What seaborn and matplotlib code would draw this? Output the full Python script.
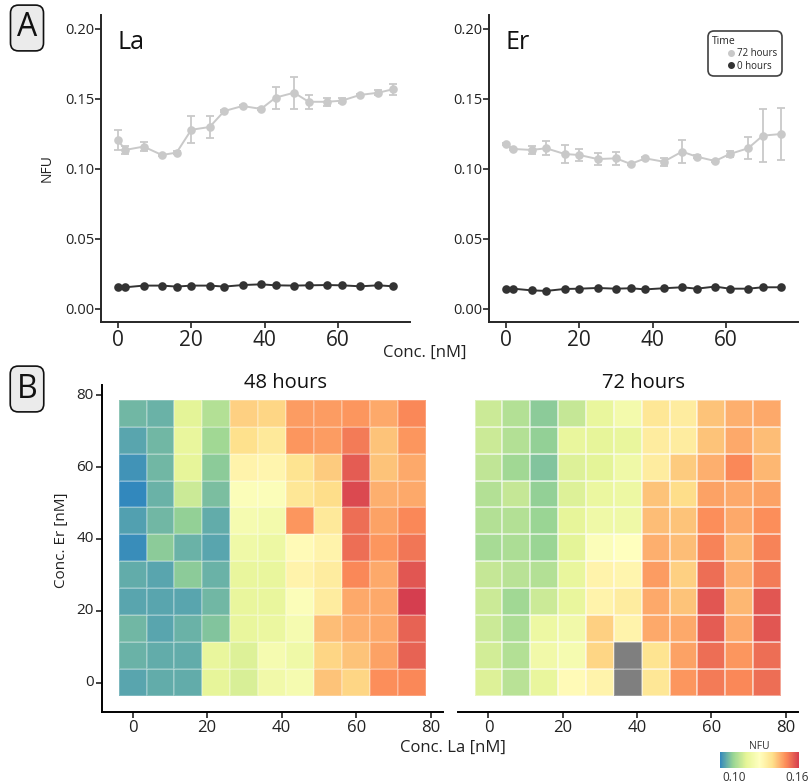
import numpy as np
import pandas as pd
import matplotlib
matplotlib.use("Agg")
import matplotlib.pyplot as plt
import seaborn as sns
from matplotlib.colors import LinearSegmentedColormap, ListedColormap
from matplotlib.lines import Line2D

# ---- panel A: single-metal titrations (NFU vs concentration) ----
la_x = [0, 2, 7, 12, 16, 20, 25, 29, 34, 39, 43, 48, 52, 57, 61, 66, 71, 75]
la_72 = [0.1207, 0.1136, 0.116, 0.110, 0.1117, 0.128, 0.130, 0.1414, 0.145, 0.1429,
         0.151, 0.1545, 0.148, 0.148, 0.1488, 0.1529, 0.1545, 0.157]
la_72_err = [0.007, 0.003, 0.003, 0.001, 0.001, 0.0095, 0.008, 0.001, 0.001, 0.001,
             0.0078, 0.0115, 0.005, 0.003, 0.002, 0.001, 0.002, 0.004]
la_0 = [0.0155, 0.0155, 0.0167, 0.0167, 0.016, 0.0167, 0.0167, 0.016, 0.0171, 0.0176,
        0.0169, 0.0167, 0.0169, 0.0171, 0.0169, 0.0162, 0.0169, 0.0162]

er_x = [0, 2, 7, 11, 16, 20, 25, 30, 34, 38, 43, 48, 52, 57, 61, 66, 70, 75]
er_72 = [0.1179, 0.1143, 0.1136, 0.1148, 0.1107, 0.110, 0.1071, 0.1076, 0.1036, 0.1076,
         0.1052, 0.1124, 0.1088, 0.1057, 0.1107, 0.1148, 0.1238, 0.125]
er_72_err = [0.001, 0.001, 0.003, 0.005, 0.0063, 0.0045, 0.004, 0.0045, 0.001, 0.001,
             0.003, 0.008, 0.001, 0.001, 0.002, 0.008, 0.0187, 0.0188]
er_0 = [0.0143, 0.0145, 0.0133, 0.0129, 0.0143, 0.0145, 0.015, 0.0145, 0.0148, 0.014,
        0.0148, 0.0155, 0.0145, 0.016, 0.0145, 0.0145, 0.0155, 0.0155]

# ---- panel B: La x Er grids ----
la_conc = [0, 7.5, 15, 22.5, 30, 37.5, 45, 52.5, 60, 67.5, 75]
er_conc = [0, 7.5, 15, 22.5, 30, 37.5, 45, 52.5, 60, 67.5, 75]

# rows written top to bottom as seen (Er 75 -> Er 0), columns La 0 -> 75
nfu_48h = [
    [0.094, 0.093, 0.111, 0.103, 0.139, 0.138, 0.147, 0.147, 0.148, 0.145, 0.150],
    [0.091, 0.094, 0.113, 0.100, 0.136, 0.133, 0.148, 0.147, 0.152, 0.141, 0.148],
    [0.088, 0.094, 0.112, 0.097, 0.129, 0.128, 0.135, 0.140, 0.157, 0.141, 0.145],
    [0.086, 0.093, 0.107, 0.095, 0.122, 0.122, 0.134, 0.137, 0.160, 0.144, 0.145],
    [0.090, 0.094, 0.098, 0.092, 0.119, 0.118, 0.148, 0.133, 0.154, 0.146, 0.150],
    [0.087, 0.097, 0.093, 0.091, 0.116, 0.115, 0.126, 0.129, 0.154, 0.148, 0.153],
    [0.092, 0.091, 0.097, 0.093, 0.113, 0.113, 0.129, 0.132, 0.150, 0.145, 0.158],
    [0.091, 0.091, 0.091, 0.094, 0.113, 0.113, 0.122, 0.132, 0.145, 0.145, 0.162],
    [0.094, 0.091, 0.093, 0.096, 0.113, 0.114, 0.119, 0.142, 0.144, 0.145, 0.156],
    [0.093, 0.092, 0.092, 0.113, 0.110, 0.119, 0.116, 0.138, 0.141, 0.146, 0.156],
    [0.091, 0.092, 0.092, 0.112, 0.109, 0.117, 0.119, 0.141, 0.138, 0.149, 0.150],
]
nfu_72h = [
    [0.107, 0.103, 0.097, 0.106, 0.113, 0.118, 0.134, 0.132, 0.141, 0.144, 0.145],
    [0.107, 0.103, 0.098, 0.113, 0.112, 0.113, 0.132, 0.132, 0.141, 0.145, 0.142],
    [0.105, 0.100, 0.096, 0.110, 0.111, 0.116, 0.132, 0.140, 0.144, 0.150, 0.143],
    [0.103, 0.106, 0.098, 0.110, 0.114, 0.115, 0.141, 0.137, 0.146, 0.145, 0.146],
    [0.103, 0.103, 0.099, 0.112, 0.116, 0.116, 0.142, 0.141, 0.149, 0.145, 0.149],
    [0.101, 0.102, 0.099, 0.111, 0.122, 0.124, 0.144, 0.142, 0.151, 0.143, 0.151],
    [0.106, 0.104, 0.103, 0.113, 0.129, 0.128, 0.147, 0.139, 0.154, 0.144, 0.152],
    [0.107, 0.100, 0.107, 0.113, 0.129, 0.132, 0.145, 0.141, 0.158, 0.143, 0.158],
    [0.107, 0.102, 0.115, 0.117, 0.139, 0.129, 0.145, 0.145, 0.157, 0.145, 0.158],
    [0.108, 0.103, 0.117, 0.119, 0.138, np.nan, 0.135, 0.146, 0.154, 0.148, 0.154],
    [0.110, 0.104, 0.113, 0.126, 0.129, np.nan, 0.134, 0.148, 0.152, 0.150, 0.154],
]

VMIN, VMAX = 0.086, 0.162
GREY72 = "#c9c9c9"
DARK0 = "#333333"
CELL_EDGE = (1, 1, 1, 0.22)

sns.set_style("ticks")
plt.rcParams["font.family"] = ["Open Sans", "DejaVu Sans"]
plt.rcParams["axes.linewidth"] = 1.4
plt.rcParams["xtick.major.width"] = 1.2
plt.rcParams["ytick.major.width"] = 1.2
plt.rcParams["xtick.color"] = "#222222"
plt.rcParams["ytick.color"] = "#222222"

# distiller "Spectral", 7 classes, reversed (low = blue)
spectral7 = ["#3288BD", "#99D594", "#E6F598", "#FFFFBF", "#FEE08B", "#FC8D59", "#D53E4F"]
cmap = LinearSegmentedColormap.from_list("spectral7", spectral7)

W, H = 811, 783
fig = plt.figure(figsize=(W / 100, H / 100), dpi=100)


def px_axes(x0, y0, x1, y1):
    return fig.add_axes([x0 / W, 1 - y1 / H, (x1 - x0) / W, (y1 - y0) / H])


# ---------------- panel A ----------------
ax_la = px_axes(101, 15, 410, 322)
ax_er = px_axes(489, 15, 798, 322)

for ax, xs, y72, e72, y0, name in [
    (ax_la, la_x, la_72, la_72_err, la_0, "La"),
    (ax_er, er_x, er_72, er_72_err, er_0, "Er"),
]:
    df = pd.DataFrame({
        "conc": xs + xs,
        "NFU": y72 + y0,
        "Time": ["72 hours"] * len(xs) + ["0 hours"] * len(xs),
    })
    ax.errorbar(xs, y72, yerr=e72, fmt="none", ecolor=GREY72, elinewidth=1.3,
                capsize=2.6, capthick=1.3, zorder=1)
    sns.lineplot(data=df, x="conc", y="NFU", hue="Time",
                 palette={"72 hours": GREY72, "0 hours": DARK0},
                 marker="o", markersize=6.2, markeredgewidth=0, linewidth=1.4,
                 legend=False, ax=ax, zorder=2)
    ax.set_xlim(-4.6, 79.6)
    ax.set_ylim(-0.0093, 0.21)
    ax.set_xticks([0, 20, 40, 60])
    ax.set_yticks([0.0, 0.05, 0.10, 0.15, 0.20])
    ax.set_yticklabels(["0.00", "0.05", "0.10", "0.15", "0.20"])
    ax.tick_params(axis="x", labelsize=15, length=4, pad=2)
    ax.tick_params(axis="y", labelsize=10.5, length=4, pad=1)
    ax.set_xlabel("")
    ax.set_ylabel("")
    sns.despine(ax=ax)
    ax.text(0.052, 0.91, name, transform=ax.transAxes, fontsize=18,
            ha="left", va="center", color="#111111")

leg_handles = [
    Line2D([], [], color=GREY72, marker="o", linestyle="none", markersize=4),
    Line2D([], [], color=DARK0, marker="o", linestyle="none", markersize=4),
]
leg = ax_er.legend(leg_handles, ["72 hours", "0 hours"], title="Time",
                   loc="upper right", bbox_to_anchor=(0.942, 0.94),
                   fontsize=7, title_fontsize=7.5, frameon=True, fancybox=True,
                   handletextpad=-1.2, handlelength=3.8, borderpad=0.25,
                   labelspacing=0.15, borderaxespad=0, alignment="left")
leg.get_frame().set_edgecolor("#111111")
leg.get_frame().set_linewidth(1.2)
leg.get_frame().set_boxstyle("round,pad=0.2,rounding_size=0.6")

fig.text(47 / W, 1 - 168 / H, "NFU", rotation=90, ha="center", va="center",
         fontsize=10, color="#222222")
fig.text(425 / W, 1 - 353 / H, "Conc. [nM]", ha="center", va="center",
         fontsize=12, color="#222222")

# ---------------- panel B ----------------
ax_48 = px_axes(102, 385, 443, 712)
ax_72 = px_axes(458, 385, 798, 712)
cax = px_axes(720, 752, 799, 768)

step = la_conc[1] - la_conc[0]


def to_pos(v):
    # numeric concentration -> heatmap cell coordinate
    return v / step + 0.5


for ax, grid, title, title_x, first in [
    (ax_48, nfu_48h, "48 hours", 285, True),
    (ax_72, nfu_72h, "72 hours", 644, False),
]:
    # flip so row 0 is Er = 0 (drawn at the bottom)
    arr = np.array(grid)[::-1]
    df = pd.DataFrame(arr, index=er_conc, columns=la_conc)
    kw = dict(cbar_ax=cax, cbar_kws={"orientation": "horizontal", "ticks": [0.10, 0.16],
                                     "format": "%.2f"}) if first else dict(cbar=False)
    sns.heatmap(df, cmap=cmap, vmin=VMIN, vmax=VMAX, linewidths=0.3,
                linecolor=CELL_EDGE, ax=ax, **kw)
    nan_df = pd.DataFrame(np.where(np.isnan(arr), 1.0, np.nan), index=er_conc, columns=la_conc)
    if nan_df.notna().values.any():
        sns.heatmap(nan_df, cmap=ListedColormap(["#7f7f7f"]), cbar=False,
                    linewidths=0.3, linecolor=CELL_EDGE, ax=ax)
    ax.set_xlim(to_pos(-8.2), to_pos(83.3))
    ax.set_ylim(to_pos(-8.1), to_pos(82.8))
    ticks = [0, 20, 40, 60, 80]
    ax.set_xticks([to_pos(t) for t in ticks])
    ax.set_xticklabels([str(t) for t in ticks], rotation=0)
    ax.tick_params(axis="x", labelsize=12, length=4, pad=2)
    ax.set_xlabel("")
    ax.set_ylabel("")
    for s in ["top", "right"]:
        ax.spines[s].set_visible(False)
    ax.spines["bottom"].set_visible(True)
    ax.spines["bottom"].set_color("black")
    if first:
        ax.spines["left"].set_visible(True)
        ax.spines["left"].set_color("black")
        ax.set_yticks([to_pos(t) for t in ticks])
        ax.set_yticklabels([str(t) for t in ticks], rotation=0)
        ax.tick_params(axis="y", labelsize=11, length=4, pad=2)
    else:
        ax.spines["left"].set_visible(False)
        ax.set_yticks([])
    fig.text(title_x / W, 1 - 383 / H, title, ha="center", va="center",
             fontsize=14.5, color="#111111")

cax.tick_params(length=0, labelsize=8.5, pad=2, colors="#333333")
cax.set_title("NFU", fontsize=7.5, pad=2, color="#333333")
for s in cax.spines.values():
    s.set_visible(False)

fig.text(453 / W, 1 - 748 / H, "Conc. La [nM]", ha="center", va="center",
         fontsize=12, color="#222222")
fig.text(62 / W, 1 - 540 / H, "Conc. Er [nM]", rotation=90, ha="center", va="center",
         fontsize=11, color="#222222")

# panel letters
for letter, cx, cy in [("A", 27, 28), ("B", 27, 389)]:
    fig.text(cx / W, 1 - cy / H, letter, ha="center", va="center", fontsize=23,
             color="#111111",
             bbox=dict(boxstyle="round,pad=0.2,rounding_size=0.25", fc="#ebebeb",
                       ec="#111111", lw=1.2))

fig.savefig("out.png", dpi=100)
